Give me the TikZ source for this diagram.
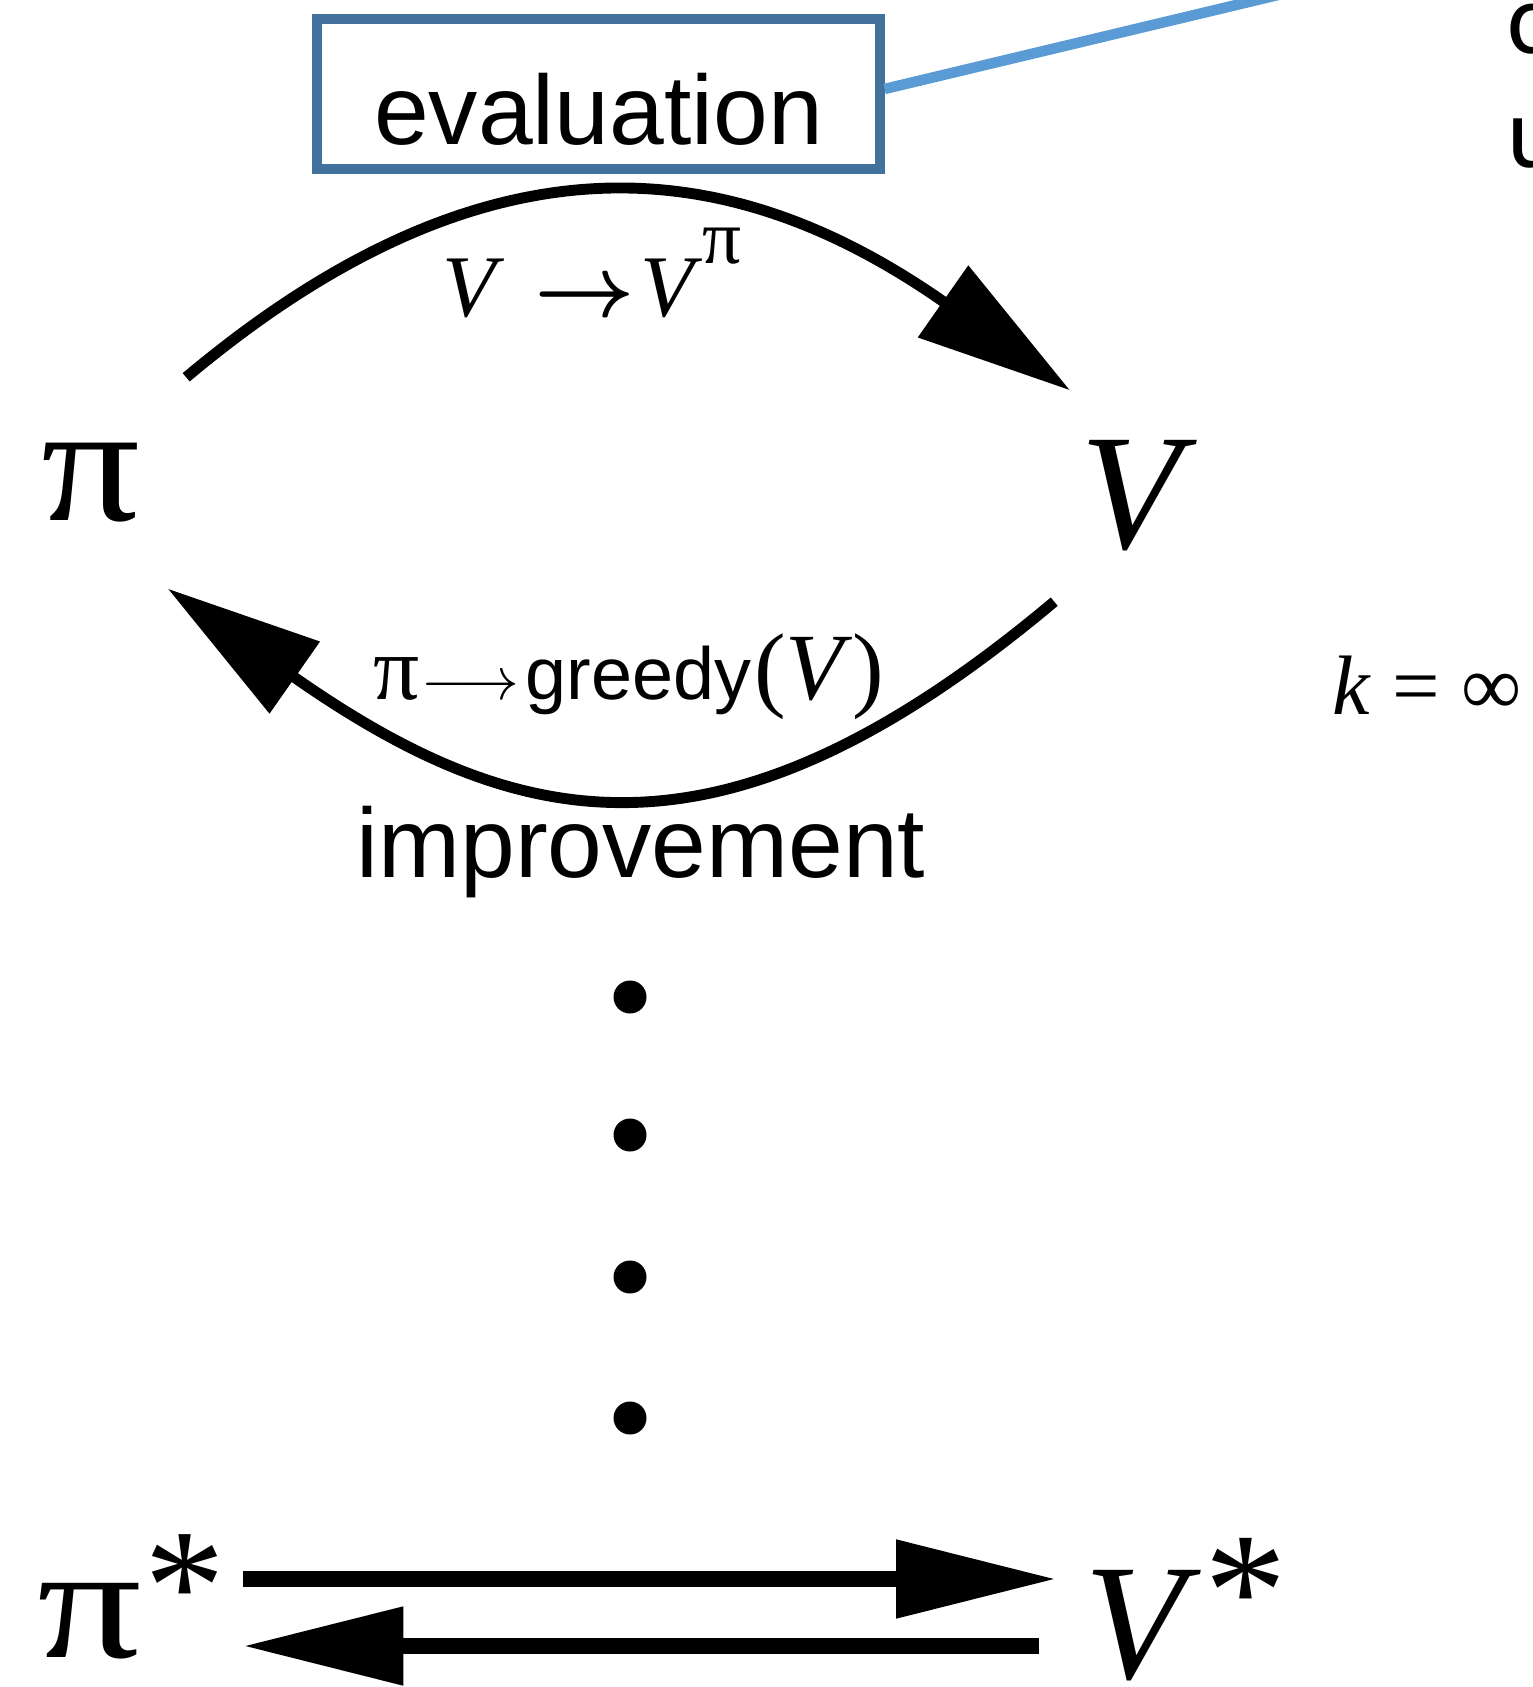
\documentclass[tikz,border=0pt]{standalone}
\usepackage{fontspec}
\setmainfont{Liberation Serif}
\newfontfamily\arialfont{Liberation Sans}
\newfontfamily\calibrifont{Carlito}
\usepackage{xcolor}
\usepackage{tikz}
\usetikzlibrary{positioning, arrows.meta}
\definecolor{boxblue} {RGB}{65,  113, 156}
\definecolor{lineblue}{RGB}{91,  155, 213}
\tikzset{
  gpistate/.style={
    rectangle, inner sep=0pt,
    minimum width=1.9cm, minimum height=2.1cm,
    font=\fontsize{48}{48}\selectfont
  },
  gpivalue/.style={
    gpistate, minimum width=1.6cm,
    font=\fontsize{47}{47}\selectfont\itshape
  },
  gpiend/.style={
    inner sep=0pt, outer xsep=0.18cm,
    font=\fontsize{46}{46}\selectfont
  },
  gpiarc/.style={
    -{Triangle[length=1.55cm, width=0.85cm]}, line width=3.1pt, black
  },
  gpibar/.style={
    -{Triangle[length=1.6cm, width=0.75cm]}, line width=4.3pt, black
  },
  gpilabel/.style={
    inner sep=0pt, font=\fontsize{25}{25}\selectfont
  },
  gpiword/.style={
    inner sep=0pt, font=\arialfont\fontsize{28}{28}\selectfont
  },
  gpibox/.style={
    draw=boxblue, line width=2.6pt, inner sep=0pt,
    minimum width=5.63cm, minimum height=1.5cm,
    font=\arialfont\fontsize{28}{28}\selectfont
  },
  gpicallout/.style={
    draw=lineblue, line width=3pt
  },
  gpidot/.style={
    circle, fill=black, inner sep=0pt, minimum size=0.33cm
  },
  gpicut/.style={
    inner sep=0pt, font=\calibrifont\fontsize{29}{29}\selectfont
  },
}

\begin{document}
\begin{tikzpicture}
  \useasboundingbox (0,0) rectangle (15.32,-16.87);
  \clip (0,0) rectangle (15.32,-16.87);

  % Evaluation box and callout line
  \node[gpibox] (evalbox) at (5.985,-0.94) {\raisebox{-0.51cm}[0pt][0pt]{evaluation}};
  \coordinate (callout) at (13.45,0.21);
  \draw[gpicallout] ([yshift=0.05cm]evalbox.east) -- (callout);

  % Text cut off at the right edge
  \node[gpicut, anchor=west] (cuttop) at (15.07,-0.29) {c};
  \node[gpicut, anchor=west] (cutbot) at (15.07,-1.44) {u};

  % States
  \node[gpistate] (pi) at (0.91,-4.83) {\scalebox{1.16}[1]{π}};
  \node[gpivalue] (V) at (11.31,-4.96) {V};

  % Transitions
  \draw[gpiarc] (pi.48) to[out=40, in=145, looseness=1.17] (V.120);
  \draw[gpiarc] (V.234) to[out=220, in=-35, looseness=1.24] (pi.-54);
  \node[gpilabel, anchor=base] (evallabel) at (5.92,-3.17)
       {\textit{V}\hspace{0.3cm}{\boldmath$\rightarrow$}\hspace{0.05cm}\textit{V}\raisebox{0.53cm}{\fontsize{22}{22}\selectfont π}};
  \node[gpilabel, anchor=base] (improvelabel) at (6.29,-6.99)
       {{\fontsize{26}{26}\selectfont π}\hspace{0.02cm}{\fontsize{16}{16}\selectfont$\longrightarrow$}\hspace{0.06cm}{\arialfont\fontsize{21}{21}\selectfont greedy}\hspace{0.03cm}{\fontsize{27}{27}\selectfont(\textit{V})}};
  \node[gpiword, anchor=base] (improveword) at (6.41,-8.77) {improvement};

  % Dots
  \foreach \y [count=\i] in {9.97, 11.35, 12.77, 14.18}
    \node[gpidot] (dot\i) at (6.30,-\y) {};

  % Optimal pair
  \node[gpiend, anchor=base west] (pistar) at (0.20,-16.57)
       {\scalebox{1.28}[1]{π}\hspace{0.02cm}\raisebox{0.17cm}{*}};
  \node[gpiend, anchor=base west, outer xsep=0.45cm,
        font=\fontsize{47}{47}\selectfont\itshape] (vstar) at (10.39,-16.78)
       {V\hspace{0.2cm}\raisebox{0.32cm}{\upshape *}};
  \draw[gpibar, shorten >=-0.17cm] (pistar.east |- 0,-15.79) -- (vstar.west |- 0,-15.79);
  \draw[gpibar] (vstar.west |- 0,-16.46) -- (pistar.east |- 0,-16.46);

  % Side note
  \node[gpilabel, anchor=base west, font=\fontsize{24}{24}\selectfont] (kinf) at (13.32,-7.15) {\textit{k} = ∞};
\end{tikzpicture}
\end{document}
